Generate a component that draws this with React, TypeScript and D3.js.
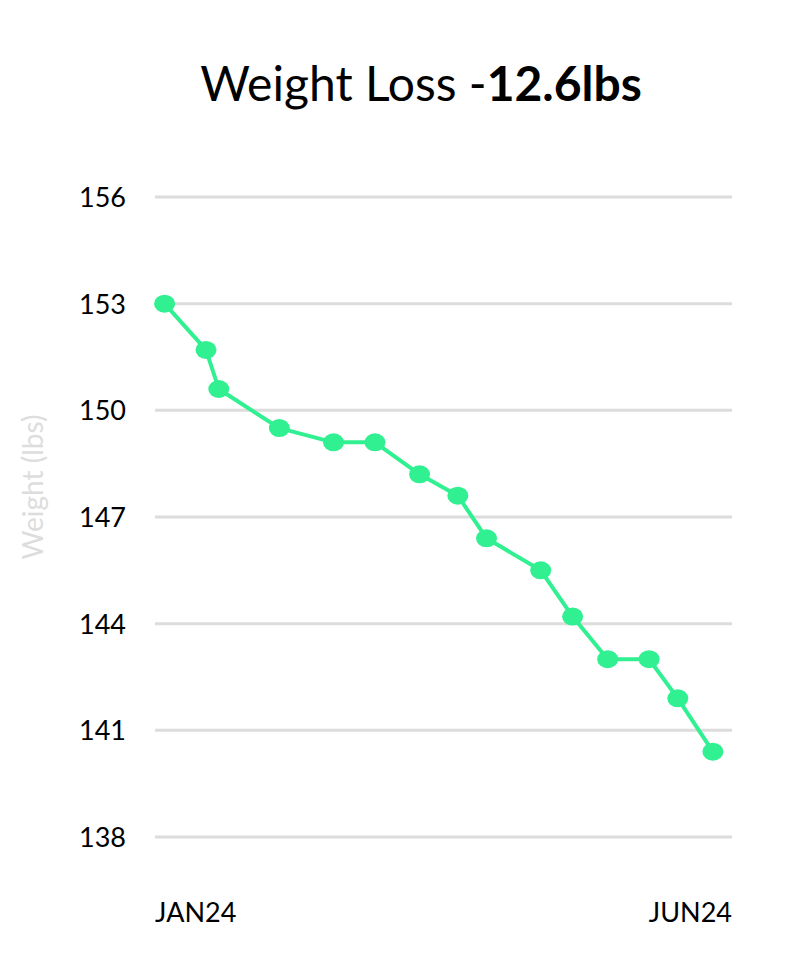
import React from "react";
import * as d3 from "d3";

const dates = [
  "2024-01-04", "2024-01-17", "2024-01-21", "2024-02-09", "2024-02-26",
  "2024-03-10", "2024-03-24", "2024-04-05", "2024-04-14", "2024-05-01",
  "2024-05-11", "2024-05-22", "2024-06-04", "2024-06-13", "2024-06-24",
];
const weights = [153.0, 151.7, 150.6, 149.5, 149.1, 149.1, 148.2, 147.6, 146.4, 145.5, 144.2, 143.0, 143.0, 141.9, 140.4];
const yTicks = [138, 141, 144, 147, 150, 153, 156];
const xLabels = ["JAN24", "JUN24"];
const xDomain = ["2024-01-01", "2024-06-30"];

const W = 800;
const H = 962;
const FONT = "Lato, 'Noto Sans', sans-serif";

export default function App() {
  const x = d3.scaleUtc().domain(xDomain.map((d) => new Date(d + "T00:00:00Z"))).range([155, 732]);
  const y = d3.scaleLinear().domain([138, 156]).range([837, 197]);
  const pts = dates.map((d, i) => ({ x: x(new Date(d + "T00:00:00Z")), y: y(weights[i]) }));
  const line = d3.line<{ x: number; y: number }>().x((p) => p.x).y((p) => p.y)(pts) || "";
  const loss = (weights[0] - weights[weights.length - 1]).toFixed(1);
  const [x0, x1] = x.range();

  return (
    <svg width={W} height={H} style={{ position: "absolute", left: 0, top: 0, background: "#fff" }}>
      <text x={421} y={101} textAnchor="middle" fontFamily={FONT} fontSize={48} fill="#000">
        <tspan>Weight Loss -</tspan>
        <tspan fontWeight="bold">{loss}lbs</tspan>
      </text>
      {yTicks.map((t) => (
        <g key={t}>
          <line x1={x0} x2={x1} y1={y(t)} y2={y(t)} stroke="#dcdcdc" strokeWidth={3} />
          <text x={126} y={y(t) + 10} textAnchor="end" fontFamily={FONT} fontSize={27} fill="#000">
            {t}
          </text>
        </g>
      ))}
      <text
        transform={`translate(43,${487}) rotate(-90)`}
        textAnchor="middle"
        fontFamily={FONT}
        fontSize={28}
        fill="#dddddd"
      >
        Weight (lbs)
      </text>
      <text x={x0} y={922} textAnchor="start" fontFamily={FONT} fontSize={27} fill="#000">
        {xLabels[0]}
      </text>
      <text x={x1} y={922} textAnchor="end" fontFamily={FONT} fontSize={27} fill="#000">
        {xLabels[1]}
      </text>
      <path d={line} fill="none" stroke="#30f091" strokeWidth={4} strokeLinejoin="round" />
      {pts.map((p, i) => (
        <ellipse key={i} cx={p.x} cy={p.y} rx={10.5} ry={9} fill="#30f091" />
      ))}
    </svg>
  );
}
